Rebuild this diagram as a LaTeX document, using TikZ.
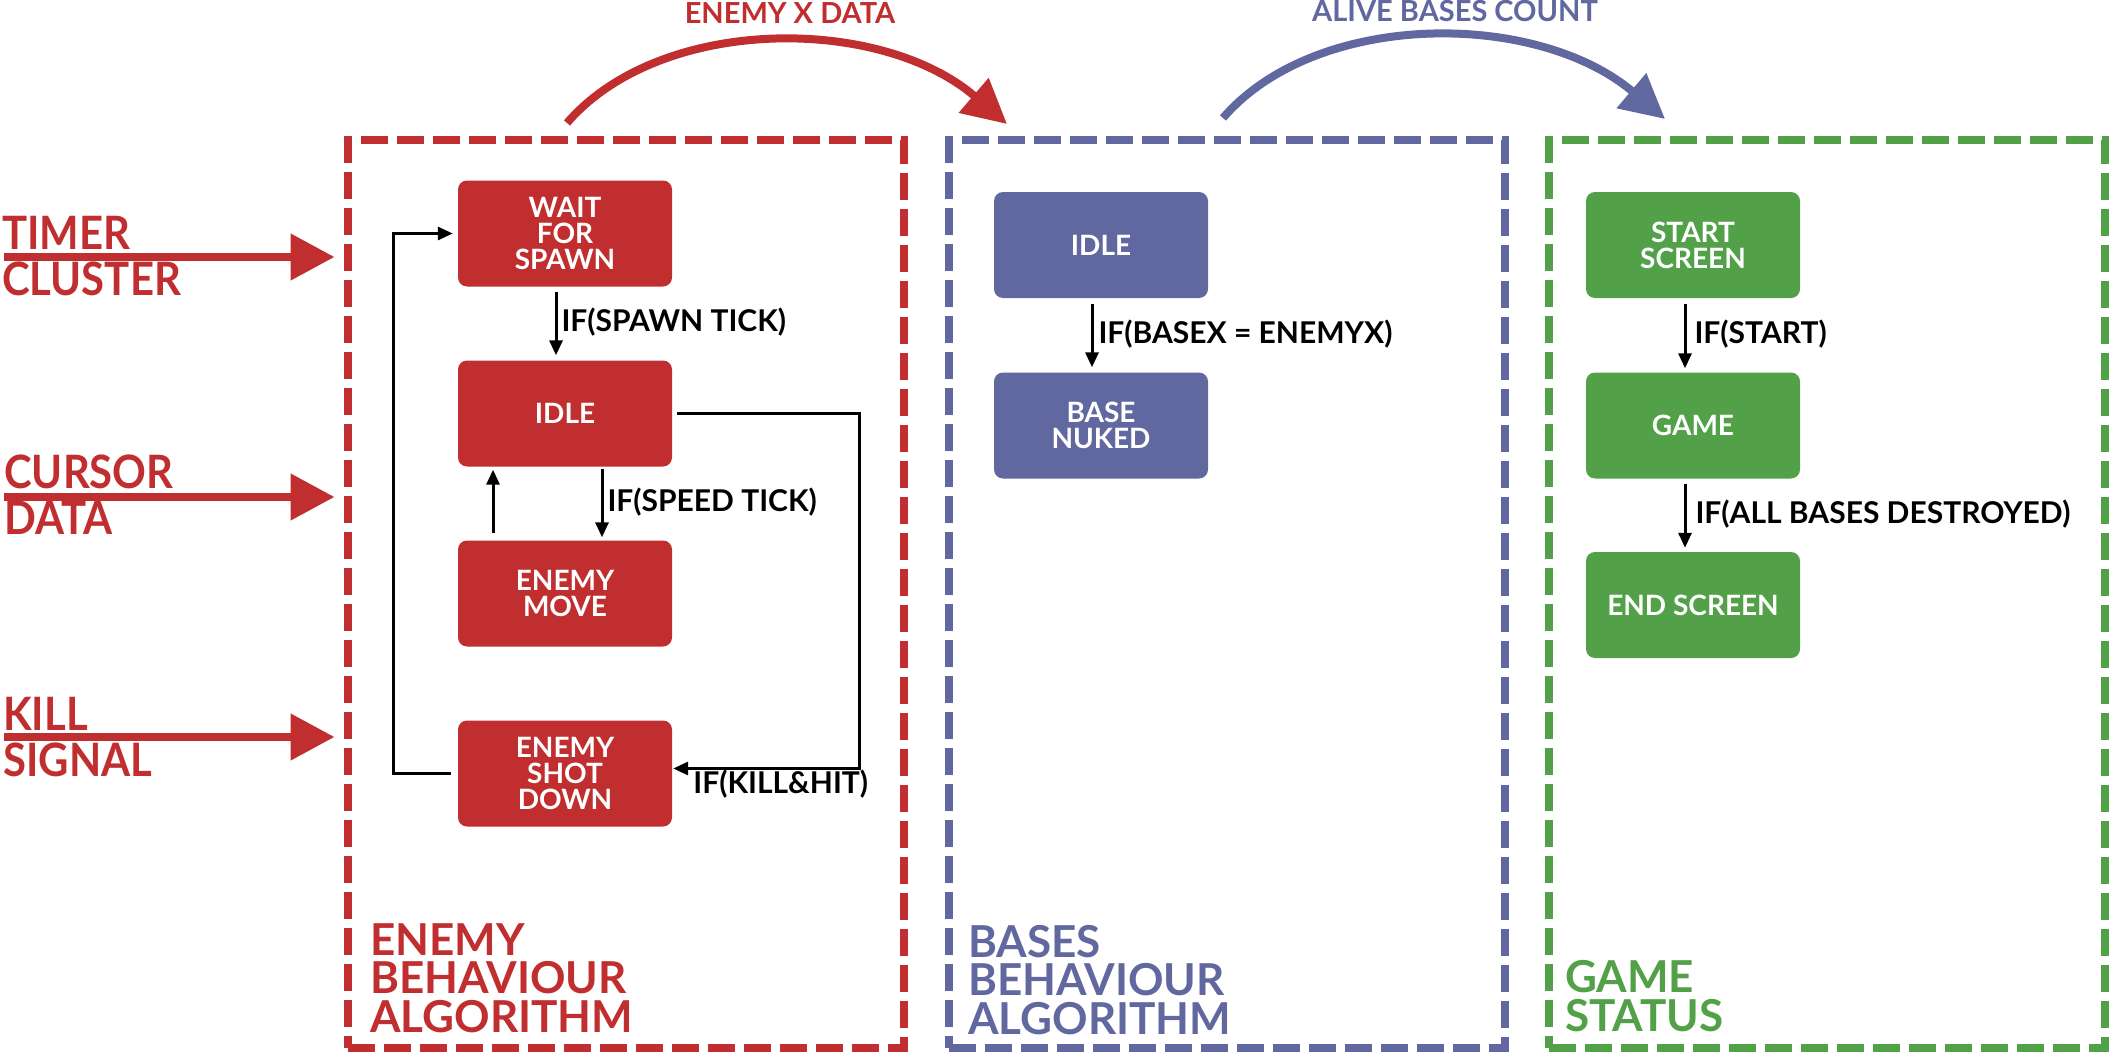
\documentclass[tikz,border=0pt]{standalone}
\usepackage{fontspec}
\setmainfont{Lato}
\newfontfamily\sidefont{Lato}[FakeStretch=0.91]
\usetikzlibrary{arrows.meta,calc}
\definecolor{cred}{RGB}{192,46,47}
\definecolor{cblue}{RGB}{97,104,160}
\definecolor{cgreen}{RGB}{82,160,72}
\begin{document}
\begin{tikzpicture}[x=1pt,y=-1pt,
  frame/.style={draw=#1, line width=8pt, dash pattern=on 27pt off 9pt, minimum width=556pt, minimum height=908pt, inner sep=0pt},
  sbox/.style={fill=#1, rounded corners=9pt, minimum width=214pt, minimum height=106pt, inner sep=0pt, text=white, align=center, font=\bfseries\fontsize{28}{26}\selectfont},
  flow/.style={draw=black, line width=3pt, -{Triangle[length=15pt,width=13pt]}},
  lbl/.style={anchor=west, inner sep=0pt, text height=21.5pt, text depth=0pt, yshift=3pt, font=\bfseries\fontsize{30}{30}\selectfont},
  bigarrow/.style={draw=cred, line width=8pt, -{Triangle[length=44pt,width=45pt]}},
  arcarrow/.style={draw=#1, line width=8pt, -{Triangle[length=44pt,width=44pt]}},
  side/.style={text=cred, align=left, inner sep=0pt, anchor=south west, font=\sidefont\bfseries\fontsize{46}{46}\selectfont},
  title/.style={text=#1, align=left, inner sep=0pt, anchor=south west, font=\bfseries\fontsize{44}{38.5}\selectfont},
  toplbl/.style={text=#1, inner sep=0pt, anchor=base, font=\bfseries\fontsize{29}{29}\selectfont}]
\fill[white] (0,0) rectangle (2110,1054);
\useasboundingbox (0,0) rectangle (2110,1054);

% dashed frames
\node[frame=cred] (ebox) at (625.5,594) {};
\node[frame=cblue] (bbox) at (1227,594) {};
\node[frame=cgreen] (gbox) at (1826.5,594) {};

% frame titles
\node[title=cred] (etitle) at (370,1033) {ENEMY\\BEHAVIOUR\\ALGORITHM};
\node[title=cblue] (btitle) at (968,1035) {BASES\\BEHAVIOUR\\ALGORITHM};
\node[title=cgreen] (gtitle) at (1565,1032) {GAME\\STATUS};

% enemy states
\node[sbox=cred] (wait) at (565,233.5) {WAIT\\FOR\\SPAWN};
\node[sbox=cred] (eidle) at (565,413.5) {IDLE};
\node[sbox=cred] (move) at (565,593.5) {ENEMY\\MOVE};
\node[sbox=cred] (shot) at (565,773.5) {ENEMY\\SHOT\\DOWN};

% bases states
\node[sbox=cblue] (bidle) at (1101,245) {IDLE};
\node[sbox=cblue] (nuked) at (1101,425.5) {BASE\\NUKED};

% game states
\node[sbox=cgreen] (start) at (1693,245) {START\\SCREEN};
\node[sbox=cgreen] (game) at (1693,425.5) {GAME};
\node[sbox=cgreen] (endscr) at (1693,605) {END SCREEN};

% enemy transitions
\draw[flow, shorten <=5pt, shorten >=5pt] ([xshift=-9pt]wait.south) -- node[lbl, xshift=4pt] {IF(SPAWN TICK)} ([xshift=-9pt]eidle.north);
\draw[flow, shorten <=2pt, shorten >=3pt] ([xshift=37pt]eidle.south) -- node[lbl, xshift=4pt] {IF(SPEED TICK)} ([xshift=37pt]move.north);
\draw[flow, shorten <=7pt, shorten >=3pt] ([xshift=-72pt]move.north) -- ([xshift=-72pt]eidle.south);
\draw[flow, shorten <=5pt, shorten >=1pt] (eidle.east) -- ++(187,0) |- ([yshift=5pt]shot.east);
\node[lbl, anchor=north west, yshift=0pt] (killlbl) at ([xshift=21pt,yshift=-1.5pt]shot.east) {IF(KILL\&HIT)};
\draw[flow, shorten <=7pt, shorten >=5pt] (shot.west) -- ++(-64,0) |- (wait.west);

% bases transitions
\draw[flow, shorten <=6pt, shorten >=5pt] ([xshift=-9pt]bidle.south) -- node[lbl, xshift=5pt] {IF(BASEX = ENEMYX)} ([xshift=-9pt]nuked.north);

% game transitions
\draw[flow, shorten <=6pt, shorten >=4pt] ([xshift=-8pt]start.south) -- node[lbl, xshift=8pt] {IF(START)} ([xshift=-8pt]game.north);
\draw[flow, shorten <=5pt, shorten >=4pt] ([xshift=-8pt]game.south) -- node[lbl, xshift=9pt] {IF(ALL BASES DESTROYED)} ([xshift=-8pt]endscr.north);

% inputs on the left
\node[side] (tlbl) at (2,296) {TIMER\\CLUSTER};
\node[side] (clbl) at (4,535) {CURSOR\\DATA};
\node[side] (klbl) at (3,777) {KILL\\SIGNAL};
\coordinate (tin) at (4,257);
\coordinate (cin) at (4,497);
\coordinate (kin) at (4,737);
\draw[bigarrow, shorten >=9pt] (tin) -- (tin -| ebox.west);
\draw[bigarrow, shorten >=9pt] (cin) -- (cin -| ebox.west);
\draw[bigarrow, shorten >=9pt] (kin) -- (kin -| ebox.west);

% data flows on top
\node[toplbl=cred] (exd) at (790,24) {ENEMY X DATA};
\node[toplbl=cblue] (abc) at (1455,22) {ALIVE BASES COUNT};
\coordinate (a1s) at (567,123);
\coordinate (a1e) at (1007,124);
\coordinate (a2s) at (1223,118);
\coordinate (a2e) at (1665,119);
\draw[arcarrow=cred] (a1s) .. controls (660,15) and (880,15) .. (a1e);
\draw[arcarrow=cblue] (a2s) .. controls (1316,10) and (1536,10) .. (a2e);
\end{tikzpicture}
\end{document}
